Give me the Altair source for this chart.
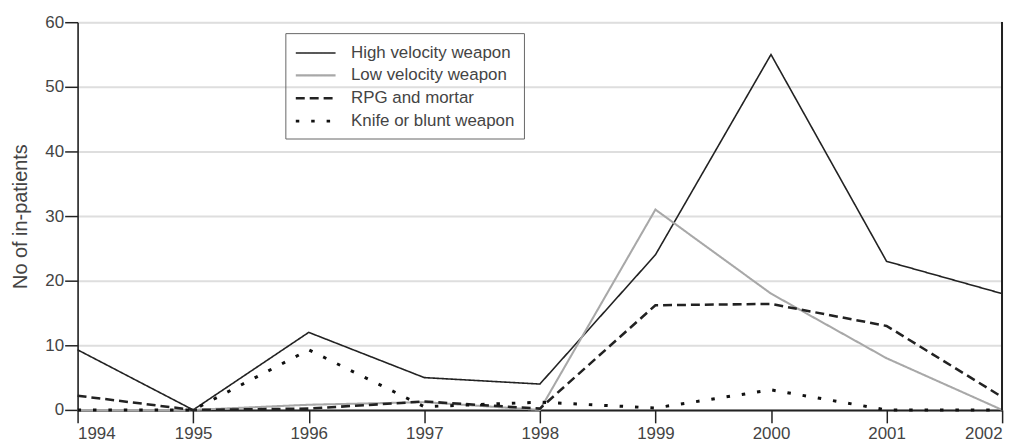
import altair as alt
import pandas as pd

years = [1994, 1995, 1996, 1997, 1998, 1999, 2000, 2001, 2002]
high_velocity = [9.3, 0, 12, 5, 4, 24, 55, 23, 18]
low_velocity = [0, 0, 0.8, 1.2, 0, 31, 18, 8, 0]
rpg_mortar = [2.2, 0, 0.2, 1.3, 0.2, 16.2, 16.4, 13, 2]
knife_blunt = [0, 0, 9.3, 0.5, 1.2, 0.3, 3.1, 0, 0]

series_names = ["High velocity weapon", "Low velocity weapon", "RPG and mortar", "Knife or blunt weapon"]
series_values = [high_velocity, low_velocity, rpg_mortar, knife_blunt]

rows = []
for name, vals in zip(series_names, series_values):
    for y, v in zip(years, vals):
        rows.append({"year": y, "value": v, "series": name})
df = pd.DataFrame(rows)

W, H = 930, 390
FONT = "Liberation Sans"

base = alt.Chart(df)

lines = base.mark_line(strokeJoin="miter", strokeCap="butt").encode(
    x=alt.X("year:Q", scale=alt.Scale(domain=[1994, 2002], nice=False, zero=False),
            axis=alt.Axis(values=years, format="d", title=None, grid=False, ticks=True,
                          tickSize=13, tickColor="#222222", tickOpacity=1, domainColor="#222", domainWidth=2,
                          tickWidth=1.5, labelFontSize=17, labelColor="#444",
                          labelPadding=3, labelFont=FONT)),
    y=alt.Y("value:Q", scale=alt.Scale(domain=[0, 60], nice=False),
            axis=alt.Axis(values=[0, 10, 20, 30, 40, 50, 60], title="No of in-patients",
                          grid=True, gridColor="#dedede", gridWidth=2, ticks=True,
                          tickSize=13, tickColor="#222222", tickOpacity=1, domainColor="#222", domainWidth=1.6,
                          tickWidth=1.5, labelFontSize=17, labelColor="#444", labelPadding=1,
                          titleFontSize=20, titleFontWeight="normal", titleColor="#444",
                          titlePadding=14, labelFont=FONT, titleFont=FONT)),
    color=alt.Color("series:N",
                    scale=alt.Scale(domain=series_names, range=["#222222", "#a8a8a8", "#222222", "#111111"]),
                    legend=alt.Legend(title=None, orient="none", legendX=209, legendY=11,
                                      symbolType="M-1,0H3", symbolSize=400,
                                      labelFontSize=17, labelFont=FONT, labelColor="#444",
                                      labelLimit=500,
                                      strokeColor="#666666", padding=9, rowPadding=3,
                                      labelOffset=34, cornerRadius=0)),
    strokeDash=alt.StrokeDash("series:N",
                              scale=alt.Scale(domain=series_names, range=[[1, 0], [1, 0], [9, 5], [3.5, 12]]),
                              legend=alt.Legend(title=None, orient="none", legendX=209, legendY=11)),
    strokeWidth=alt.StrokeWidth("series:N",
                                scale=alt.Scale(domain=series_names, range=[1.6, 3, 2, 3.5]),
                                legend=alt.Legend(title=None, orient="none", legendX=209, legendY=11)),
    order=alt.Order("year:Q"),
)

right_rule = alt.Chart(df).mark_rule(color="#222", strokeWidth=1.6).encode(
    x=alt.value(W), y=alt.value(0), y2=alt.value(H)
)

chart = alt.layer(lines, right_rule).properties(
    width=W, height=H,
    autosize=alt.AutoSizeParams(type="none"),
    padding={"left": 70, "top": 13, "right": 20, "bottom": 33},
).configure_view(stroke=None).configure_legend(strokeWidth=1.5).configure(background="white")

chart.save("out.html", embed_options={"renderer": "svg", "actions": False})
